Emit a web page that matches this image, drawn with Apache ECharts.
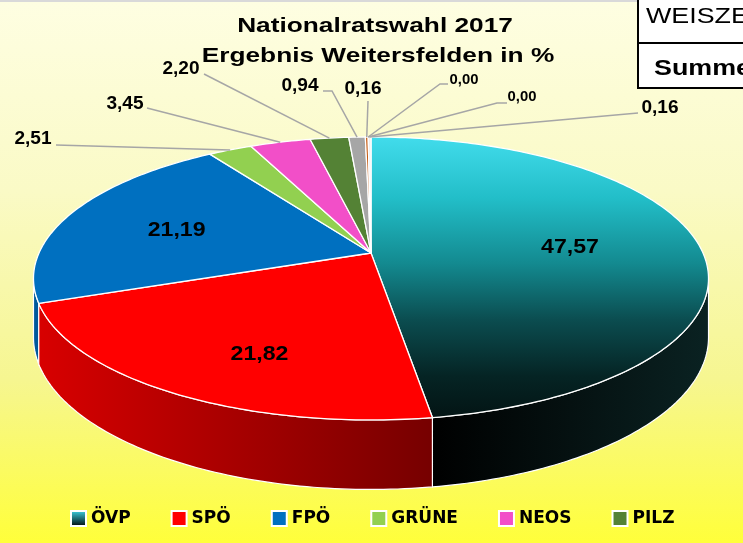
<!DOCTYPE html>
<html><head><meta charset="utf-8">
<script src="https://cdn.jsdelivr.net/npm/echarts@6/dist/echarts.min.js"></script>
<style>html,body{margin:0;padding:0;background:#fff}#c{width:743px;height:543px}</style>
</head><body><div id="c"></div>
<script>
// ---- data ----
const parties = ['ÖVP','SPÖ','FPÖ','GRÜNE','NEOS','PILZ','GILT','FLÖ','CPÖ','KPÖ','WEISZE'];
const shares = [47.57,21.82,21.19,2.51,3.45,2.20,0.94,0.16,0.00,0.00,0.16];
const legendParties = ['ÖVP','SPÖ','FPÖ','GRÜNE','NEOS','PILZ'];
const titleLines = ['Nationalratswahl 2017','Ergebnis Weitersfelden in %'];
const tableRows = ['WEISZE','Summe'];

// ---- styles ----
const G = echarts.graphic;
const faceColors = ['#3fd9ea','#ff0000','#0070c0','#92d050','#f24fc8','#548235','#a6a6a6','#c55a11','#7030a0','#ffc000','#eeeeee'];
const ovpTop = () => new G.LinearGradient(0,0,0,1,[
  {offset:0,color:'#42dcec'},{offset:0.22,color:'#22bec8'},{offset:0.45,color:'#138a90'},
  {offset:0.65,color:'#0b4d50'},{offset:0.85,color:'#052424'},{offset:1,color:'#031414'}]);
const ovpWall = () => new G.LinearGradient(0,0,1,0,[{offset:0,color:'#000000'},{offset:1,color:'#0a2222'}]);
const spoWall = () => new G.LinearGradient(0,0,1,0,[{offset:0,color:'#d80000'},{offset:1,color:'#760000'}]);
const wallColors = [ovpWall, spoWall, ()=>'#005a9c', ()=>'#74a83e', ()=>'#c03ca0', ()=>'#3f6428', ()=>'#808080', ()=>'#9a4510', ()=>'#55207a', ()=>'#c09000', ()=>'#bbbbbb'];
const legendIcon = i => i === 0 ? new G.LinearGradient(0,0,0,1,[{offset:0,color:'#3fd9ea'},{offset:1,color:'#000'}]) : faceColors[i];

// geometry of the perspective pie
const CX = 371, CY = 253, RX = 332, RY = 136.9, K = 0.18, DEPTH = 57;
function proj(X, Z, drop){ const s = 1/(1-K*Z); return [CX + RX*X*s, CY + (RY*Z + drop)*s]; }
function edge(t, r, drop){ return proj(r*Math.sin(t), -r*Math.cos(t), drop); }
function arc(a, b, r, drop){
  const n = Math.max(2, Math.ceil(Math.abs(b-a)/(Math.PI/180))); const pts=[];
  for(let k=0;k<=n;k++){ pts.push(edge(a+(b-a)*k/n, r, drop)); } return pts;
}
const total = shares.reduce((a,b)=>a+b,0);
function startAngle(i){ let s=0; for(let j=0;j<i;j++) s+=shares[j]; return s/total*2*Math.PI; }

// label layout (positions of texts, not data)
const innerLabel = {0:{r:0.6,dx:2,dy:0}, 1:{r:0.6,dx:0,dy:23}, 2:{r:0.6,dx:-11,dy:2}};
const outerLabel = {
  3:{pos:[33,139],attach:[56,145],size:18},
  4:{pos:[125,104],attach:[147,108],size:18},
  5:{pos:[181,69],attach:[204,74],size:18},
  6:{pos:[300,86],attach:[323,91],elbow:[332,91],size:18},
  7:{pos:[363,89],attach:[368,101],size:18},
  8:{pos:[464,80],attach:[448,84],elbow:[440,84],size:14},
  9:{pos:[522,97],attach:[507,103],elbow:[497,103],size:14},
  10:{pos:[660,108],attach:[638,113],size:18}
};
const fmt = v => v.toFixed(2).replace('.', ',');

function wallRenderer(i){
  return function(params, api){
    const v = api.value(0);
    const a = startAngle(i), b = a + v/total*2*Math.PI;
    const lo = Math.acos(-K), hi = 2*Math.PI - lo;
    const s = Math.max(a, lo), e = Math.min(b, hi);
    if (v <= 0 || e <= s) return {type:'group', children:[]};
    const pts = arc(s, e, 1, 0).concat(arc(e, s, 1, DEPTH));
    const mid = (s+e)/2;
    return {type:'polygon', z2: Math.round(-Math.cos(mid)*100)+100, shape:{points:pts},
      style:{fill: wallColors[i](), stroke:'#ffffff', lineWidth:1.2}};
  };
}
function topRenderer(i){
  return function(params, api){
    const v = api.value(0);
    const a = startAngle(i), b = a + v/total*2*Math.PI;
    const children = [];
    if (v > 0){
      const pts = [[CX,CY]].concat(arc(a, b, 1, 0));
      children.push({type:'polygon', z2:1, shape:{points:pts},
        style:{fill: i===0 ? ovpTop() : faceColors[i], stroke:'#ffffff', lineWidth:1.3, lineJoin:'round'}});
    }
    const mid = (a+b)/2;
    if (innerLabel[i]){
      const L = innerLabel[i]; const p = edge(mid, L.r, 0);
      children.push({type:'text', z2:200, x:p[0]+L.dx, y:p[1]+L.dy, scaleX:1.1,
        style:{text: fmt(v), font:'bold 21px "Liberation Sans", Arial, sans-serif', fill:'#000',
          align:'center', verticalAlign:'middle', textAlign:'center', textVerticalAlign:'middle'}});
    }
    if (outerLabel[i]){
      const L = outerLabel[i]; const p = edge(mid, 1, 0);
      const line = [p]; if (L.elbow) line.push(L.elbow); line.push(L.attach);
      children.push({type:'polyline', z2:150, shape:{points:line}, style:{stroke:'#a6a6a6', lineWidth:1.5, fill:null}});
      children.push({type:'text', z2:200, x:L.pos[0], y:L.pos[1], scaleX:1.06,
        style:{text: fmt(v), font:'bold '+L.size+'px "Liberation Sans", Arial, sans-serif', fill:'#000',
          align:'center', verticalAlign:'middle', textAlign:'center', textVerticalAlign:'middle'}});
    }
    return {type:'group', children};
  };
}

const series = [];
parties.forEach((name, i) => {
  series.push({type:'custom', name, coordinateSystem:'none', z:2, silent:true, animation:false,
    itemStyle:{color: legendIcon(i)}, data:[[shares[i]]], renderItem: wallRenderer(i)});
  series.push({type:'custom', name, coordinateSystem:'none', z:3, silent:true, animation:false,
    itemStyle:{color: legendIcon(i)}, data:[[shares[i]]], renderItem: topRenderer(i)});
});

const chart = echarts.init(document.getElementById('c'), null, {renderer:'canvas'});
chart.setOption({
  animation:false,
  graphic:[
    {type:'rect', z:-10, silent:true, shape:{x:0,y:0,width:743,height:543},
      style:{fill:new G.LinearGradient(0,0,0,1,[{offset:0,color:'#fefee2'},{offset:0.35,color:'#fafac6'},{offset:0.7,color:'#f6f690'},{offset:1,color:'#ffff3a'}])}},
    {type:'rect', z:-9, silent:true, shape:{x:0,y:0,width:743,height:2}, style:{fill:'#d9d9d9'}},
    {type:'text', z:10, x:375, y:26, scaleX:1.25, style:{text:titleLines[0], font:'bold 21px "Liberation Sans", Arial, sans-serif', fill:'#000', textAlign:'center', textVerticalAlign:'middle'}},
    {type:'text', z:10, x:378, y:56, scaleX:1.25, style:{text:titleLines[1], font:'bold 21px "Liberation Sans", Arial, sans-serif', fill:'#000', textAlign:'center', textVerticalAlign:'middle'}},
    {type:'rect', z:10, shape:{x:638,y:-2,width:120,height:90}, style:{fill:'#ffffff', stroke:'#000', lineWidth:2}},
    {type:'line', z:11, shape:{x1:638,y1:43,x2:743,y2:43}, style:{stroke:'#000', lineWidth:2}},
    {type:'text', z:11, x:646, y:17, scaleX:1.22, style:{text:tableRows[0], font:'22px "Liberation Sans", Arial, sans-serif', fill:'#000', textAlign:'left', textVerticalAlign:'middle'}},
    {type:'text', z:11, x:654, y:69, scaleX:1.22, style:{text:tableRows[1], font:'bold 22px "Liberation Sans", Arial, sans-serif', fill:'#000', textAlign:'left', textVerticalAlign:'middle'}}
  ],
  legend:{
    data: legendParties.map(n => ({name:n, itemStyle:{color: legendIcon(parties.indexOf(n)), borderColor:'#fff', borderWidth:2}})),
    left:70, top:510, padding:0, icon:'rect', itemWidth:15, itemHeight:15, itemGap:40,
    itemStyle:{borderColor:'#fff', borderWidth:2},
    textStyle:{fontFamily:'"DejaVu Sans", sans-serif', fontWeight:'bold', fontSize:17, color:'#000'}
  },
  series
});
</script></body></html>
